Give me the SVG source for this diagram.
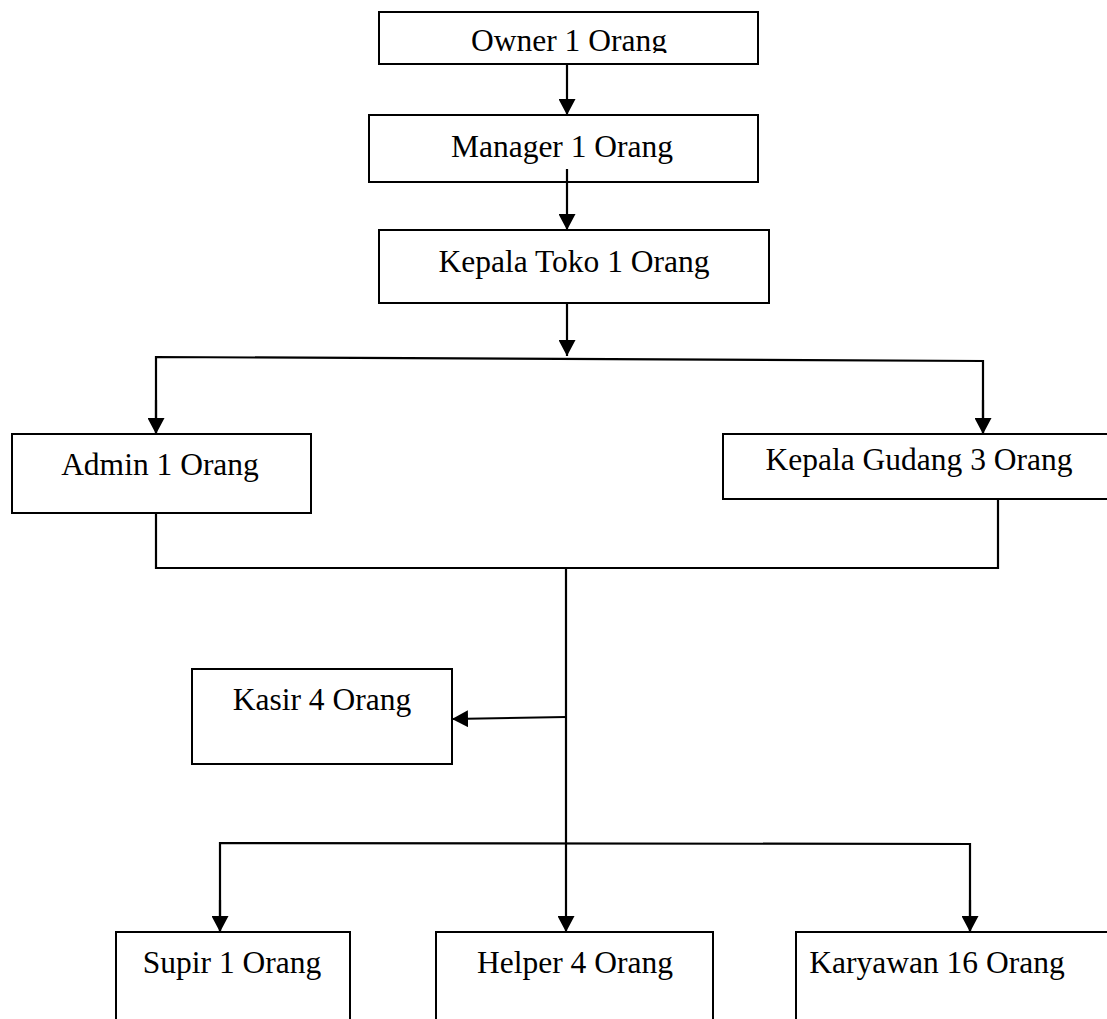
<svg xmlns="http://www.w3.org/2000/svg" width="1107" height="1019" viewBox="0 0 1107 1019">
<style>
.box{fill:#fff;stroke:#000;stroke-width:2}
.lbl{font-family:"Liberation Serif","Times New Roman",serif;font-size:31.5px;fill:#000;text-anchor:middle}
.ln{fill:none;stroke:#000;stroke-width:2.2}
</style>
<defs>
<marker id="ah" markerWidth="16" markerHeight="17" refX="16" refY="8.5" orient="auto" markerUnits="userSpaceOnUse"><path d="M0,0 L16,8.5 L0,17 z" fill="#000"/></marker>
<clipPath id="ownclip"><rect x="379" y="12" width="379" height="41"/></clipPath>
</defs>
<rect width="1107" height="1019" fill="#fff"/>
<g id="owner"><rect class="box" x="379" y="12" width="379" height="52"/><text class="lbl" x="569" y="51" clip-path="url(#ownclip)">Owner 1 Orang</text></g>
<g id="manager"><rect class="box" x="369" y="115" width="389" height="67"/><text class="lbl" x="562" y="157">Manager 1 Orang</text></g>
<g id="kepala-toko"><rect class="box" x="379" y="230" width="390" height="73"/><text class="lbl" x="574" y="272">Kepala Toko 1 Orang</text></g>
<g id="admin"><rect class="box" x="12" y="434" width="299" height="79"/><text class="lbl" x="160" y="475">Admin 1 Orang</text></g>
<g id="kepala-gudang"><rect class="box" x="723" y="434" width="400" height="65"/><text class="lbl" x="919" y="470">Kepala Gudang 3 Orang</text></g>
<g id="kasir"><rect class="box" x="192" y="669" width="260" height="95"/><text class="lbl" x="322" y="710">Kasir 4 Orang</text></g>
<g id="supir"><rect class="box" x="116" y="932" width="234" height="100"/><text class="lbl" x="232" y="973">Supir 1 Orang</text></g>
<g id="helper"><rect class="box" x="436" y="932" width="277" height="100"/><text class="lbl" x="575" y="973">Helper 4 Orang</text></g>
<g id="karyawan"><rect class="box" x="796" y="932" width="330" height="100"/><text class="lbl" x="937" y="973">Karyawan 16 Orang</text></g>
<g id="connectors">
<line class="ln" x1="567" y1="64" x2="567" y2="115" marker-end="url(#ah)"/>
<line class="ln" x1="567" y1="169" x2="567" y2="230" marker-end="url(#ah)"/>
<line class="ln" x1="567" y1="303" x2="567" y2="356" marker-end="url(#ah)"/>
<polyline class="ln" points="156,434 156,357 983,361 983,434"/>
<line class="ln" x1="156" y1="400" x2="156" y2="434" marker-end="url(#ah)"/>
<line class="ln" x1="983" y1="400" x2="983" y2="434" marker-end="url(#ah)"/>
<polyline class="ln" points="156,513 156,568 998,568 998,499"/>
<line class="ln" x1="566" y1="568" x2="566" y2="932" marker-end="url(#ah)"/>
<line class="ln" x1="566" y1="717" x2="452" y2="719" marker-end="url(#ah)"/>
<polyline class="ln" points="220,932 220,843 970,844 970,932"/>
<line class="ln" x1="220" y1="900" x2="220" y2="932" marker-end="url(#ah)"/>
<line class="ln" x1="970" y1="900" x2="970" y2="932" marker-end="url(#ah)"/>
</g>
</svg>
